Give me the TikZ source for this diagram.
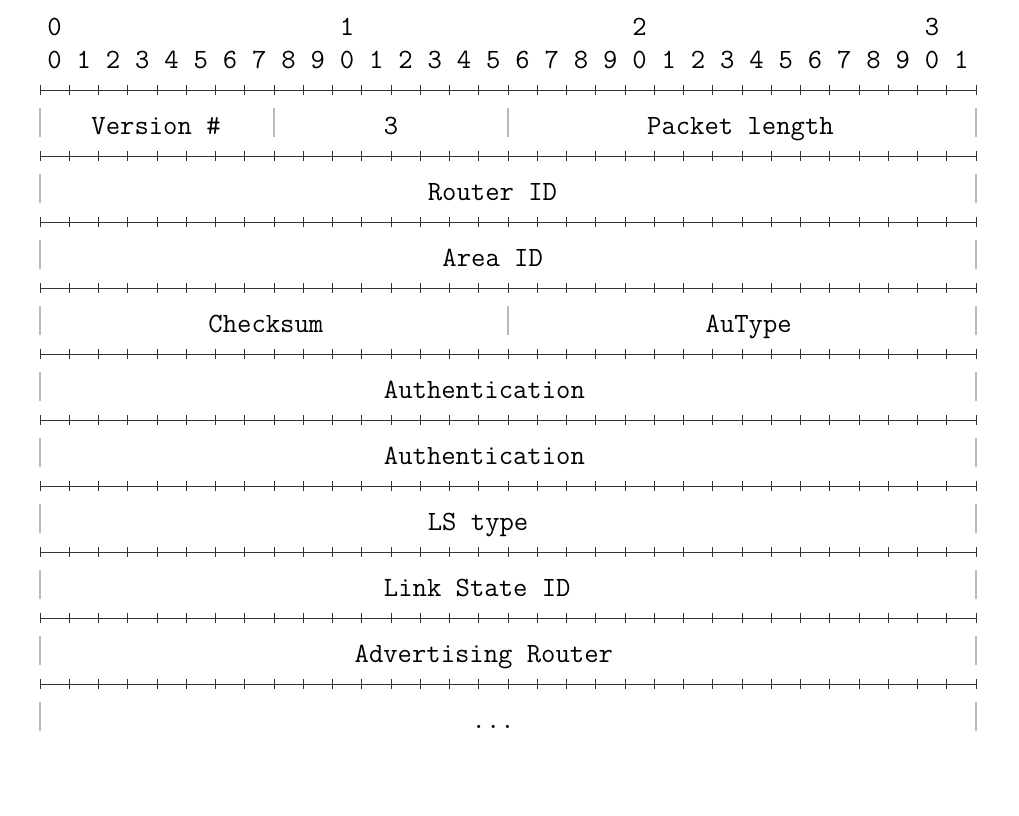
\documentclass[tikz,border=0pt]{standalone}
\usepackage{fontspec}
\newcommand\pktfont{\ttfamily\fontsize{20.9}{25}\selectfont}
\tikzset{
  field/.style={anchor=base west,inner sep=0pt,font=\pktfont},
  digit/.style={anchor=base,inner sep=0pt,font=\pktfont},
  bar/.style={gray!55,line width=1pt},
  rule/.style={black!80,line width=0.6pt}
}
\begin{document}
\begin{tikzpicture}[x=0.75pt,y=-0.75pt]
  \useasboundingbox (0,0) rectangle (1019,815);
  % bit numbers
  \foreach \i/\c in {0/1,1/21,2/41,3/61}
    \node[digit] (tens\i) at ({40+\c*14.625},35) {\i};
  \foreach \i [evaluate=\i as \d using {int(mod(\i,10))}] in {0,...,31}
    \node[digit] (bit\i) at ({40+(2*\i+1)*14.625},68) {\d};
  % +-+-+ rows
  \foreach \k in {0,...,9} {
    \draw[rule] (40,{90+66*\k}) -- (976,{90+66*\k});
    \foreach \c in {0,...,32}
      \draw[rule] ({40+29.25*\c},{85+66*\k}) -- ++(0,10);
  }
  % side bars
  \foreach \k in {0,...,9} {
    \draw[bar] (40,{108+66*\k}) -- ++(0,29);
    \draw[bar] (976,{108+66*\k}) -- ++(0,29);
  }
  \draw[bar] (274,108) -- ++(0,29);
  \draw[bar] (508,108) -- ++(0,29);
  \draw[bar] (508,306) -- ++(0,29);
  % fields
  \node[field] (ver) at (91.2,134) {Version \#};
  \node[field] (type) at (383.7,134) {3};
  \node[field] (len) at (646.9,134) {Packet length};
  \node[field] (rid) at (427.6,200) {Router ID};
  \node[field] (aid) at (442.2,266) {Area ID};
  \node[field] (cks) at (208.2,332) {Checksum};
  \node[field] (aut) at (705.4,332) {AuType};
  \node[field] (auth1) at (383.7,398) {Authentication};
  \node[field] (auth2) at (383.7,464) {Authentication};
  \node[field] (lst) at (427.6,530) {LS type};
  \node[field] (lsid) at (383.7,596) {Link State ID};
  \node[field] (adv) at (354.4,662) {Advertising Router};
  \node[field] (more) at (471.4,728) {...};
\end{tikzpicture}
\end{document}
